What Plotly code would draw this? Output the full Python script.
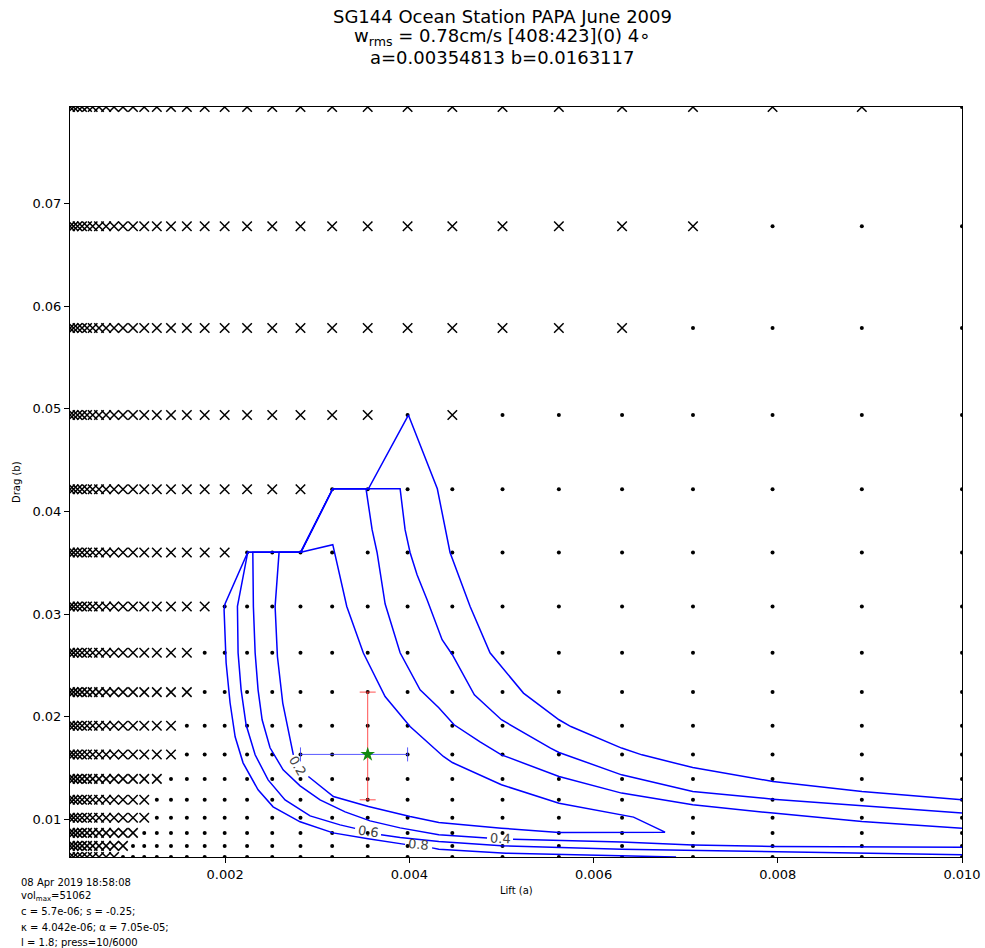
import plotly.graph_objects as go

# ---------------- data ----------------
lift_grid = [0.00031623, 0.00035481, 0.00039811, 0.00044668, 0.00050119, 0.00056234,
             0.00063096, 0.00070795, 0.00079433, 0.00089125, 0.0010000, 0.0011220,
             0.0012589, 0.0014125, 0.0015849, 0.0017783, 0.0019953, 0.0022387,
             0.0025119, 0.0028184, 0.0031623, 0.0035481, 0.0039811, 0.0044668,
             0.0050119, 0.0056234, 0.0063096, 0.0070795, 0.0079433, 0.0089125, 0.010000]
drag_grid = [0.0063096, 0.0073918, 0.0086597, 0.010145, 0.011885, 0.013924, 0.016312,
             0.019110, 0.022387, 0.026227, 0.030726, 0.035996, 0.042170, 0.049403,
             0.057877, 0.067804, 0.079433]
# index of the last lift column marked "x" on each drag row (bottom to top)
last_cross_col = [8, 9, 10, 11, 11, 12, 13, 13, 14, 14, 15, 16, 19, 21, 26, 27, 29]
extra_cross = [(13, 23)]  # (drag row, lift col) isolated cross

best_a = 0.00354813
best_b = 0.0163117
a_lo, a_hi = 0.0028184, 0.0039811
b_lo, b_hi = 0.011885, 0.022387

# contour polylines (None = gap for label)
c02_a = [0.002586, 0.002822, 0.003169, 0.003321, 0.003501, 0.003737, 0.004008, 0.004370,
         0.004467, 0.005000, 0.005625, 0.006305, 0.006434, 0.006776, 0.006305, 0.005625,
         0.005000, 0.004320, 0.004008, 0.003556, 0.003176, 0.002904, None, 0.002741,
         0.002626, 0.002568, 0.002543, 0.002586]
c02_b = [0.03603, 0.03603, 0.03676, 0.03074, 0.02620, 0.02196, 0.01903, 0.01611,
         0.01552, 0.01335, 0.01156, 0.01042, 0.01020, 0.00873, 0.00869, 0.00869,
         0.00912, 0.00967, 0.01025, 0.01123, 0.01220, 0.01416, None, 0.01627,
         0.02132, 0.02586, 0.03074, 0.03603]

c04_a = [0.010000, 0.008914, 0.007948, 0.007077, 0.006305, 0.005625, 0.005000, 0.004768,
         0.004486, 0.004320, 0.004117, 0.003900, 0.003737, 0.003650, 0.003596, 0.003530,
         0.003169, 0.002822, 0.002301, 0.002307, 0.002326, 0.002358, 0.002402, 0.002488,
         0.002630, 0.002814, 0.003031, 0.003303, 0.003574, 0.003900, 0.004320, 0.004844,
         None, 0.005126, 0.006305, 0.007077, 0.007948, 0.010000]
c04_b = [0.00912, 0.00977, 0.01059, 0.01140, 0.01254, 0.01416, 0.01627, 0.01754,
         0.01920, 0.02086, 0.02261, 0.02622, 0.03100, 0.03600, 0.03822, 0.04221,
         0.04221, 0.03603, 0.03603, 0.03074, 0.02622, 0.02261, 0.01969, 0.01696,
         0.01481, 0.01325, 0.01188, 0.01071, 0.00983, 0.00915, 0.00847, 0.00817,
         None, 0.00805, 0.00776, 0.00749, 0.00733, 0.00727]

c06_a = [0.010000, 0.008914, 0.007948, 0.007077, 0.006305, 0.005625, 0.005533, 0.005000,
         0.004706, 0.004467, 0.004356, 0.004193, 0.004084, 0.004008, 0.003954, 0.003900,
         0.003556, 0.003169, 0.002822, 0.002246, 0.002134, 0.002141, 0.002174, 0.002228,
         0.002326, 0.002467, 0.002651, 0.002923, 0.003248, 0.003411, None, 0.003693,
         0.003900, 0.004320, 0.005000, 0.006305, 0.007077, 0.010000]
c06_b = [0.01059, 0.01130, 0.01195, 0.01269, 0.01432, 0.01650, 0.01693, 0.01969,
         0.02213, 0.02603, 0.02749, 0.03140, 0.03383, 0.03600, 0.03822, 0.04221,
         0.04221, 0.04221, 0.03603, 0.03603, 0.03074, 0.02622, 0.02261, 0.01920,
         0.01627, 0.01383, 0.01188, 0.01032, 0.00944, 0.00910, None, 0.00847,
         0.00822, 0.00781, 0.00740, 0.00707, 0.00694, 0.00652]

c08_a = [0.010000, 0.008914, 0.007948, 0.007077, 0.006525, 0.006305, 0.005754, 0.005625,
         0.005239, 0.004876, 0.004660, 0.004442, 0.004304,
         0.003990, 0.003556, 0.003169, 0.002822, 0.002246, 0.002000, 0.001989, 0.002011,
         0.002054, 0.002109, 0.002195, 0.002358, 0.002521, 0.002814, 0.003172, 0.003552,
         0.003954, None, 0.004247, 0.004320, 0.005050, 0.006305, 0.006896]
c08_b = [0.01188, 0.01269, 0.01367, 0.01503, 0.01627, 0.01693, 0.01903, 0.01969,
         0.02229, 0.02622, 0.03074, 0.03600, 0.04221,
         0.04940, 0.04221, 0.04221, 0.03603, 0.03603, 0.03100, 0.03042, 0.02525,
         0.02135, 0.01803, 0.01549, 0.01286, 0.01120, 0.00974, 0.00866, 0.00808,
         0.00754, None, 0.00720, 0.00707, 0.00668, 0.00642, 0.0063096]

contour_labels = ["0.2", "0.4", "0.6", "0.8"]
label_a = [0.002782, 0.004985, 0.003552, 0.004095]
label_b = [0.01520, 0.00813, 0.00879, 0.00749]
label_angle = [60, 3, 8, 5]

title_lines = ["SG144 Ocean Station PAPA June 2009",
               "w<sub>rms</sub> = 0.78cm/s [408:423](0) 4∘",
               "a=0.00354813 b=0.0163117"]
info_lines = ["08 Apr 2019 18:58:08",
              "vol<sub>max</sub>=51062",
              "c = 5.7e-06; s = -0.25;",
              "κ = 4.042e-06; α = 7.05e-05;",
              "l = 1.8; press=10/6000"]
x_ticks = [0.002, 0.004, 0.006, 0.008, 0.010]
y_ticks = [0.01, 0.02, 0.03, 0.04, 0.05, 0.06, 0.07]

# ---------------- figure ----------------
FONT = "DejaVu Sans"
cx, cy, dx, dy = [], [], [], []
for r, b in enumerate(drag_grid):
    for c, a in enumerate(lift_grid):
        if c <= last_cross_col[r] or (r, c) in extra_cross:
            cx.append(a); cy.append(b)
        else:
            dx.append(a); dy.append(b)

fig = go.Figure()
fig.add_trace(go.Scatter(x=dx, y=dy, mode="markers", cliponaxis=True,
                         marker=dict(symbol="circle", size=4, color="black"),
                         hoverinfo="skip"))
fig.add_trace(go.Scatter(x=cx, y=cy, mode="markers", cliponaxis=True,
                         marker=dict(symbol="x-thin", size=9.5,
                                     line=dict(width=1.5, color="black")),
                         hoverinfo="skip"))
for xa, yb in [(c02_a, c02_b), (c04_a, c04_b), (c06_a, c06_b), (c08_a, c08_b)]:
    fig.add_trace(go.Scatter(x=xa, y=yb, mode="lines",
                             line=dict(color="#0000ff", width=1.5),
                             connectgaps=False, hoverinfo="skip"))

fig.add_trace(go.Scatter(
    x=[best_a], y=[best_b], mode="markers",
    marker=dict(symbol="star", size=11, color="#118811"),
    error_x=dict(type="data", symmetric=False, array=[a_hi - best_a],
                 arrayminus=[best_a - a_lo], color="rgba(60,60,255,0.85)",
                 thickness=1, width=7),
    error_y=dict(type="data", symmetric=False, array=[b_hi - best_b],
                 arrayminus=[best_b - b_lo], color="rgba(255,50,50,0.85)",
                 thickness=1, width=8),
    hoverinfo="skip"))

ann = []
for t, xa, yb, ang in zip(contour_labels, label_a, label_b, label_angle):
    ann.append(dict(x=xa, y=yb, xref="x", yref="y", text=t, showarrow=False,
                    textangle=ang, font=dict(family=FONT, size=13, color="#444444")))

L, R, T, B = 70, 962, 107, 857
W = R - L
H = B - T
def px(x):
    return (x - L) / W
def py(y):
    return (B - y) / H

for i, t in enumerate(title_lines):
    ann.append(dict(x=px(502), y=py(17 + 20 * i), xref="paper", yref="paper", text=t,
                    showarrow=False, xanchor="center", yanchor="middle",
                    font=dict(family=FONT, size=18, color="black")))
for i, t in enumerate(info_lines):
    ann.append(dict(x=px(19), y=py(882 + 15 * i), xref="paper", yref="paper", text=t,
                    showarrow=False, xanchor="left", yanchor="middle",
                    font=dict(family=FONT, size=10, color="black")))
ann.append(dict(x=0.5, y=py(891), xref="paper", yref="paper", text="Lift (a)",
                showarrow=False, xanchor="center", yanchor="middle",
                font=dict(family=FONT, size=10, color="black")))
ann.append(dict(x=px(16), y=0.5, xref="paper", yref="paper", text="Drag (b)",
                showarrow=False, xanchor="center", yanchor="middle", textangle=-90,
                font=dict(family=FONT, size=10, color="black")))

fig.update_layout(
    width=985, height=948,
    margin=dict(l=L, r=985 - R, t=T, b=948 - B, pad=0, autoexpand=False),
    paper_bgcolor="white", plot_bgcolor="white",
    showlegend=False, annotations=ann,
    font=dict(family=FONT, size=13, color="black"),
)
fig.update_xaxes(range=[lift_grid[0], lift_grid[-1]], showgrid=False, zeroline=False,
                 showline=True, linecolor="black", linewidth=1, mirror=True,
                 ticks="outside", ticklen=5, tickcolor="black", tickvals=x_ticks,
                 tickformat=".3f", tickfont=dict(family=FONT, size=13), automargin=False)
fig.update_yaxes(range=[drag_grid[0], drag_grid[-1]], showgrid=False, zeroline=False,
                 showline=True, linecolor="black", linewidth=1, mirror=True,
                 ticks="outside", ticklen=5, tickcolor="black", tickvals=y_ticks,
                 tickformat=".2f", tickfont=dict(family=FONT, size=13), automargin=False)

fig.write_html("out.html", config={"displayModeBar": False},
               post_script="document.body.style.margin='0';document.body.style.padding='0';"
                           "document.documentElement.style.overflow='hidden';")
